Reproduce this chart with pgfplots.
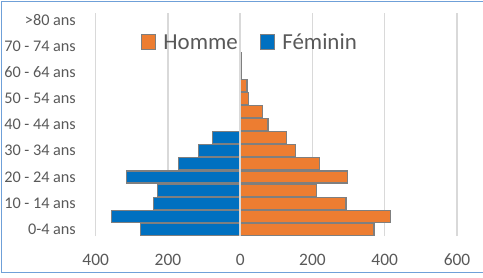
\documentclass[border=0pt]{standalone}
\usepackage{pgfplots}
\pgfplotsset{compat=1.18}
\usepackage{fontspec}
\setmainfont{Carlito}
\definecolor{orangeH}{HTML}{ED7D31}
\definecolor{blueF}{HTML}{0070C0}
\definecolor{gridc}{HTML}{D9D9D9}
\definecolor{txt}{HTML}{595959}
\definecolor{framec}{HTML}{6FA0D8}
\definecolor{edgec}{HTML}{7F7F7F}
\begin{document}
\begin{tikzpicture}[x=1bp,y=1bp]
\useasboundingbox (0,0) rectangle (483,277);
\draw[framec, line width=1.5bp] (1.5,4.5) rectangle (490,275.5);
\begin{axis}[
  at={(95.7bp,41bp)}, anchor=south west,
  width=361.3bp, height=223bp, scale only axis,
  xmin=-400, xmax=600, ymin=-0.5, ymax=16.5,
  xtick={-400,-200,0,200,400,600},
  xticklabels={400,200,0,200,400,600},
  ytick={0,2,4,6,8,10,12,14,16},
  yticklabels={0-4 ans,10 - 14 ans,20 - 24 ans,30 - 34 ans,40 - 44 ans,50 - 54 ans,60 - 64 ans,70 - 74 ans,>80 ans},
  /pgf/number format/assume math mode=true,
  xmajorgrids, major grid style={gridc, line width=1.3bp},
  axis line style={draw=none}, tick style={draw=none},
  xticklabel style={font=\fontsize{17.5}{20}\selectfont, text=txt, inner sep=0pt, anchor=north, yshift=-18bp},
  yticklabel style={font=\fontsize{16.3}{18}\selectfont, text=txt, inner sep=0pt, anchor=east, xshift=-15.4bp},
  xbar, bar width=0.92,
  legend columns=2,
  legend style={draw=none, fill=none, font=\fontsize{23}{26}\selectfont, text=txt,
    at={(0.424,0.868)}, anchor=center, inner sep=0pt,
    nodes={inner sep=0pt},
    /tikz/every odd column/.append style={column sep=7bp},
    /tikz/every even column/.append style={column sep=22bp}},
  legend image code/.code={\draw[#1, draw=edgec, line width=1bp] (0,-7bp) rectangle (14.5bp,7.5bp);},
]
\addplot[fill=orangeH, draw=edgec, line width=1.2bp, bar shift=0pt] coordinates {
(370,0) (415,1) (293,2) (212,3) (297,4) (219,5) (153,6) (129,7) (77,8) (62,9)
(23,10) (19,11) (4,12) (2,13) (1,14) (1,15) (1,16)};
\addlegendentry{Homme}
\addplot[fill=blueF, draw=edgec, line width=1.2bp, bar shift=0pt] coordinates {
(-277,0) (-357,1) (-241,2) (-230,3) (-315,4) (-170,5) (-116,6) (-76,7)};
\addlegendentry{Féminin}
\draw[gridc, line width=1.5bp] (axis cs:0,-0.5) -- (axis cs:0,16.5);
\end{axis}
\end{tikzpicture}
\end{document}
